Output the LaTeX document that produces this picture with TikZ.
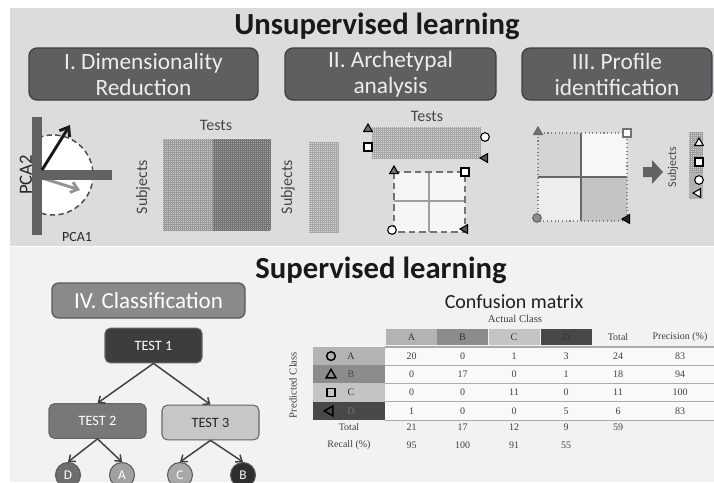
\documentclass[tikz,border=0pt]{standalone}
\usepackage{fontspec}
\setmainfont{Carlito}
\newfontfamily\tabfont{Liberation Serif}
\usetikzlibrary{arrows.meta,shapes.geometric}

\definecolor{paneltop}{HTML}{DCDCDD}
\definecolor{panelbot}{HTML}{F1F2F4}
\definecolor{stagegray}{HTML}{5F5F61}
\definecolor{bargray}{HTML}{626262}
\definecolor{clsA}{HTML}{B3B3B3}
\definecolor{clsB}{HTML}{8C8C8C}
\definecolor{clsC}{HTML}{C4C4C4}
\definecolor{clsD}{HTML}{484848}

\tikzset{
  stagebox/.style={draw=black!75, line width=1pt, fill=stagegray, rounded corners=6pt,
    text=white!93!black, align=center, inner sep=0pt, minimum height=39pt,
    font=\fontsize{17.5}{19.5}\selectfont},
  testbox/.style={draw=black!60, line width=0.8pt, rounded corners=4pt,
    minimum width=72.75pt, minimum height=26pt, font=\fontsize{10.7}{12}\selectfont},
  leaf/.style={circle, draw=black!65, line width=0.8pt, minimum size=18.75pt,
    inner sep=0pt, text=white, font=\fontsize{10}{12}\selectfont},
  tree/.style={draw=black!75, line width=1.1pt, -{Straight Barb[length=4pt,width=6.5pt]}},
  axislabel/.style={text=black!72, font=\fontsize{12}{14}\selectfont},
  fine/.style={line width=0.25pt, xstep=1.5pt, ystep=1.5pt},
  symc/.style={circle, draw=black, line width=0.8pt, fill=white, inner sep=0pt, minimum size=6.5pt},
  symt/.style={regular polygon, regular polygon sides=3, draw=black, line width=0.8pt,
    inner sep=0pt, minimum size=7.5pt},
  syms/.style={rectangle, draw=black, line width=0.8pt, fill=white, inner sep=0pt, minimum size=6pt},
  syml/.style={symt, shape border rotate=90},
  cell/.style={text=black!75, font=\tabfont\fontsize{7.5}{9}\selectfont},
  rowline/.style={draw=black!33, line width=1pt},
}

\begin{document}
\begin{tikzpicture}[x=0.75pt, y=-0.75pt]
  \useasboundingbox (0,0) rectangle (714,482);

  % Step 1: the two panels and their titles
  \fill[paneltop] (10,8) rectangle (714,245.5);
  \fill[panelbot] (10,247) rectangle (714,482);
  \draw[white, dashed, line width=1pt] (10,246.2) -- (714,246.2);
  \node[text=black!90, font=\bfseries\fontsize{23}{26}\selectfont] (unsup) at (377,26) {Unsupervised learning};
  \node[text=black!90, font=\bfseries\fontsize{23}{26}\selectfont] (sup) at (381,270) {Supervised learning};

  % Step 2: the three unsupervised stages
  \node[stagebox, minimum width=171.75pt] (stageI) at (143.5,74) {I. Dimensionality\\Reduction};
  \node[stagebox, minimum width=158.25pt] (stageII) at (390.5,74) {II. Archetypal\\analysis};
  \node[stagebox, minimum width=142.5pt] (stageIII) at (617,74) {III. Profile\\identification};

  % Step 3: PCA axes with the dashed circle and the two loadings
  \coordinate (pcaO) at (42,170);
  \coordinate (pcaV1) at (70,125);
  \coordinate (pcaG) at (42,178);
  \coordinate (pcaV2) at (80,190);
  \begin{scope}
    \clip (42,100) rectangle (140,240);
    \draw[black!70, line width=1.1pt, dash pattern=on 4pt off 2.5pt, fill=white] (53,175) circle[radius=40];
  \end{scope}
  \draw[black!42, line width=2.2pt, -{Straight Barb[length=5pt,width=8pt]}] (pcaG) -- (pcaV2);
  \fill[bargray] (32,117) rectangle (42,235);
  \fill[bargray] (42,170) rectangle (112,180);
  \draw[black!90, line width=2.2pt, -{Straight Barb[length=6pt,width=9pt]}] (pcaO) -- (pcaV1);
  \node[rotate=90, text=black!85, font=\fontsize{14}{16}\selectfont] (pca2) at (26,175) {PCA2};
  \node[text=black!85, font=\fontsize{10.5}{12}\selectfont] (pca1) at (77,237) {PCA1};

  % Step 4: the data matrix subjects x tests
  \fill[black!20] (163,139) rectangle (213,230);
  \draw[fine, black!40] (163,139) grid (213,230);
  \fill[black!37] (213,139) rectangle (270,230);
  \draw[fine, black!55] (213,139) grid (270,230);
  \node[axislabel] (tests1) at (216,125) {Tests};
  \node[axislabel, rotate=90] (subj1) at (143,187) {Subjects};

  % Step 5: archetypal analysis, matrices and simplex
  \node[axislabel, rotate=90] (subj2) at (288,187) {Subjects};
  \fill[black!14] (309,142) rectangle (338,233);
  \draw[fine, black!35] (309,142) grid (338,233);
  \node[axislabel] (tests2) at (427,116) {Tests};
  \fill[black!14] (372,127) rectangle (481,159);
  \draw[fine, black!35] (372,127) grid (481,159);
  \node[symt, fill=black!55] (aTri) at (368,129) {};
  \node[syms] (aSq) at (368,147) {};
  \node[symc] (aCir) at (485,137) {};
  \node[syml, fill=black!65] (aLeft) at (485,158) {};
  \fill[black!4] (394,172) rectangle (465,232);
  \draw[black!38, line width=0.8pt] (429,172) -- (429,232) (394,201) -- (465,201);
  \draw[black!55, line width=1.6pt, dash pattern=on 5pt off 3pt] (394,172) rectangle (465,232);
  \node[symt, fill=black!55] (sTri) at (394,171) {};
  \node[syms] (sSq) at (465,172) {};
  \node[symc] (sCir) at (392,230) {};
  \node[syml, fill=black!65] (sLeft) at (465,229) {};

  % Step 6: profile identification
  \fill[black!17] (538,133) rectangle (581,177);
  \fill[black!3] (581,133) rectangle (627,177);
  \fill[black!7] (538,177) rectangle (581,221);
  \fill[black!23] (581,177) rectangle (627,221);
  \draw[black!60, line width=0.8pt] (581,133) -- (581,221) (538,177) -- (627,177);
  \draw[black!50, line width=0.8pt, dotted] (538,133) rectangle (627,221);
  \node[symt, draw=black!60, fill=black!55] (pTri) at (538,132) {};
  \node[syms, draw=black!55] (pSq) at (627,133) {};
  \node[symc, draw=black!60, fill=black!45] (pCir) at (537,218) {};
  \node[syml, fill=black!85] (pLeft) at (627,219) {};
  \fill[bargray] (643,167) -- (652,167) -- (652,160) -- (663,172) -- (652,184) -- (652,177) -- (643,177) -- cycle;
  \node[axislabel, rotate=90, font=\fontsize{9}{11}\selectfont] (subj3) at (673,167) {Subjects};
  \fill[black!18] (689,132) rectangle (703,199);
  \draw[fine, black!38] (689,132) grid (703,199);
  \fill[black!30] (689,173) rectangle (703,199);
  \node[symt, fill=white] (rTri) at (699,143) {};
  \node[syms] (rSq) at (699,162) {};
  \node[symc] (rCir) at (699,180) {};
  \node[syml, fill=white] (rLeft) at (698,193) {};

  % Step 7: classification tree
  \node[stagebox, fill=black!46, draw=black!65, rounded corners=5pt, minimum width=144.75pt,
    minimum height=26.25pt, text=white, font=\fontsize{17.25}{19}\selectfont] (stageIV) at (148.5,300.5) {IV. Classification};
  \node[testbox, fill=black!76, text=white] (t1) at (153.5,345.5) {TEST 1};
  \node[testbox, fill=black!53, text=white] (t2) at (97.5,421) {TEST 2};
  \node[testbox, fill=black!22, text=black!85] (t3) at (210.5,422.5) {TEST 3};
  \node[leaf, fill=black!57] (lD) at (68,475) {D};
  \node[leaf, fill=black!37] (lA) at (122,475) {A};
  \node[leaf, fill=black!34] (lC) at (180,475) {C};
  \node[leaf, fill=black!82] (lB) at (243,475) {B};
  \draw[tree] (t1.south) -- (t2.north);
  \draw[tree] (t1.south) -- (t3.north);
  \draw[tree] (t2.south) -- (lD.north);
  \draw[tree] (t2.south) -- (lA.north);
  \draw[tree] (t3.south) -- (lC.north);
  \draw[tree] (t3.south) -- (lB.north);

  % Step 8: confusion matrix
  \node[text=black!88, font=\fontsize{15}{17}\selectfont] (cmTitle) at (514,302) {Confusion matrix};
  \node[cell, font=\tabfont\fontsize{8}{10}\selectfont] (actual) at (515,319) {Actual Class};
  \node[cell, rotate=90, font=\tabfont\fontsize{8}{10}\selectfont] (predicted) at (293,385) {Predicted Class};
  \fill[white!55!panelbot] (385,347) rectangle (714,420.5);
  \foreach \c/\x/\col [count=\j] in {A/411.5/clsA, B/462.5/clsB, C/514/clsC, D/566/clsD}
    \node[cell, fill=\col, text=black!80, minimum width=38.25pt, minimum height=12pt, inner sep=0pt] (hd\j) at (\x,337) {\c};
  \node[cell] (hdTot) at (618,337) {Total};
  \node[cell] (hdPrec) at (680,337) {Precision (\%)};
  \foreach \c/\y/\col/\tc [count=\j] in {A/356.1/clsA/black!80, B/374.4/clsB/black!70, C/392.6/clsC/black!80, D/410.9/clsD/black!55}
  {
    \node[fill=\col, minimum width=54pt, minimum height=13.7pt, inner sep=0pt] (rl\j) at (349,\y) {};
    \node[cell, text=\tc] (rc\j) at (351,\y) {\c};
  }
  \node[symc, line width=1.1pt, fill=none, minimum size=6.5pt] (mCir) at (331,356.1) {};
  \node[symt, line width=1.1pt, minimum size=8.5pt] (mTri) at (331,375) {};
  \node[syms, line width=1.1pt, fill=none, minimum size=6.2pt] (mSq) at (331,392.6) {};
  \node[syml, line width=1.1pt, minimum size=8.5pt] (mLeft) at (330,410.9) {};
  \foreach \y in {347,365.2,383.5,401.8,420.5}
    \draw[rowline] (385,\y) -- (714,\y);
  \foreach \x/\v [count=\j] in {411.5/20, 462.5/0, 514/1, 566/3, 618/24, 680/83}
    \node[cell] (vA\j) at (\x,356.1) {\v};
  \foreach \x/\v [count=\j] in {411.5/0, 462.5/17, 514/0, 566/1, 618/18, 680/94}
    \node[cell] (vB\j) at (\x,374.4) {\v};
  \foreach \x/\v [count=\j] in {411.5/0, 462.5/0, 514/11, 566/0, 618/11, 680/100}
    \node[cell] (vC\j) at (\x,392.6) {\v};
  \foreach \x/\v [count=\j] in {411.5/1, 462.5/0, 514/0, 566/5, 618/6, 680/83}
    \node[cell] (vD\j) at (\x,410.9) {\v};
  \node[cell] (totLab) at (349,427) {Total};
  \foreach \x/\v [count=\j] in {411.5/21, 462.5/17, 514/12, 566/9, 618/59}
    \node[cell] (tot\j) at (\x,427) {\v};
  \node[cell] (recLab) at (349,445) {Recall (\%)};
  \foreach \x/\v [count=\j] in {411.5/95, 462.5/100, 514/91, 566/55}
    \node[cell] (rec\j) at (\x,445) {\v};
\end{tikzpicture}
\end{document}
